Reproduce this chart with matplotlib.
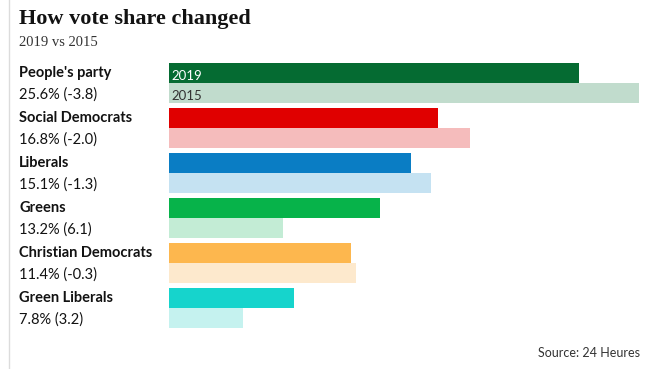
import matplotlib.pyplot as plt
from matplotlib.lines import Line2D

# data
parties = ['People\'s party', 'Social Democrats', 'Liberals', 'Greens',
           'Christian Democrats', 'Green Liberals']
share_2019 = [25.6, 16.8, 15.1, 13.2, 11.4, 7.8]
share_2015 = [29.4, 18.8, 16.4, 7.1, 11.7, 4.6]
change = ['-3.8', '-2.0', '-1.3', '6.1', '-0.3', '3.2']
dark_cols = ['#056b32', '#e00000', '#0a7dc4', '#07b34a', '#fdb74e', '#16d4cc']
light_cols = ['#c1dccd', '#f5bcbc', '#c5e2f2', '#c3ecd5', '#fde9cd', '#c5f2ef']

W, H = 659, 369
fig = plt.figure(figsize=(W / 100, H / 100), dpi=100)
fig.patch.set_facecolor('white')

# axes in pixel terms: bars start at x=169, 16px per percent
left, top, bottom = 169, 63, 328
ax = fig.add_axes([left / W, 1 - bottom / H, 480 / W, (bottom - top) / H])
ax.set_xlim(0, 30)
ax.set_ylim(bottom - top, 0)
ax.axis('off')

sans = ['Lato', 'DejaVu Sans']
for i in range(len(parties)):
    y0 = 45 * i
    ax.barh(y0 + 10, share_2019[i], height=20, color=dark_cols[i], linewidth=0)
    ax.barh(y0 + 30, share_2015[i], height=20, color=light_cols[i], linewidth=0)
    py = top + y0
    fig.text(19 / W, 1 - (py + 10) / H, parties[i], fontsize=10.5, fontweight='bold',
             family=sans, color='#121212', va='center', ha='left')
    fig.text(19 / W, 1 - (py + 32) / H, f'{share_2019[i]}% ({change[i]})', fontsize=10.5,
             family=sans, color='#121212', va='center', ha='left')

ax.text(0.15, 13.5, '2019', color='white', fontsize=9.5, family=sans, va='center')
ax.text(0.15, 33.5, '2015', color='#333333', fontsize=9.5, family=sans, va='center')

fig.text(19 / W, 1 - 19 / H, 'How vote share changed', fontsize=16, fontweight='bold',
         family='Liberation Serif', color='#121212', va='center', ha='left')
fig.text(19 / W, 1 - 42 / H, '2019 vs 2015', fontsize=10.5, family='Liberation Serif',
         color='#333333', va='center', ha='left')
fig.text(640 / W, 1 - 353 / H, 'Source: 24 Heures', fontsize=9, family=sans,
         color='#333333', va='center', ha='right')

fig.add_artist(Line2D([9 / W, 9 / W], [0, 1], color='#dcdcdc', linewidth=1))

plt.savefig('out.png', dpi=100)
